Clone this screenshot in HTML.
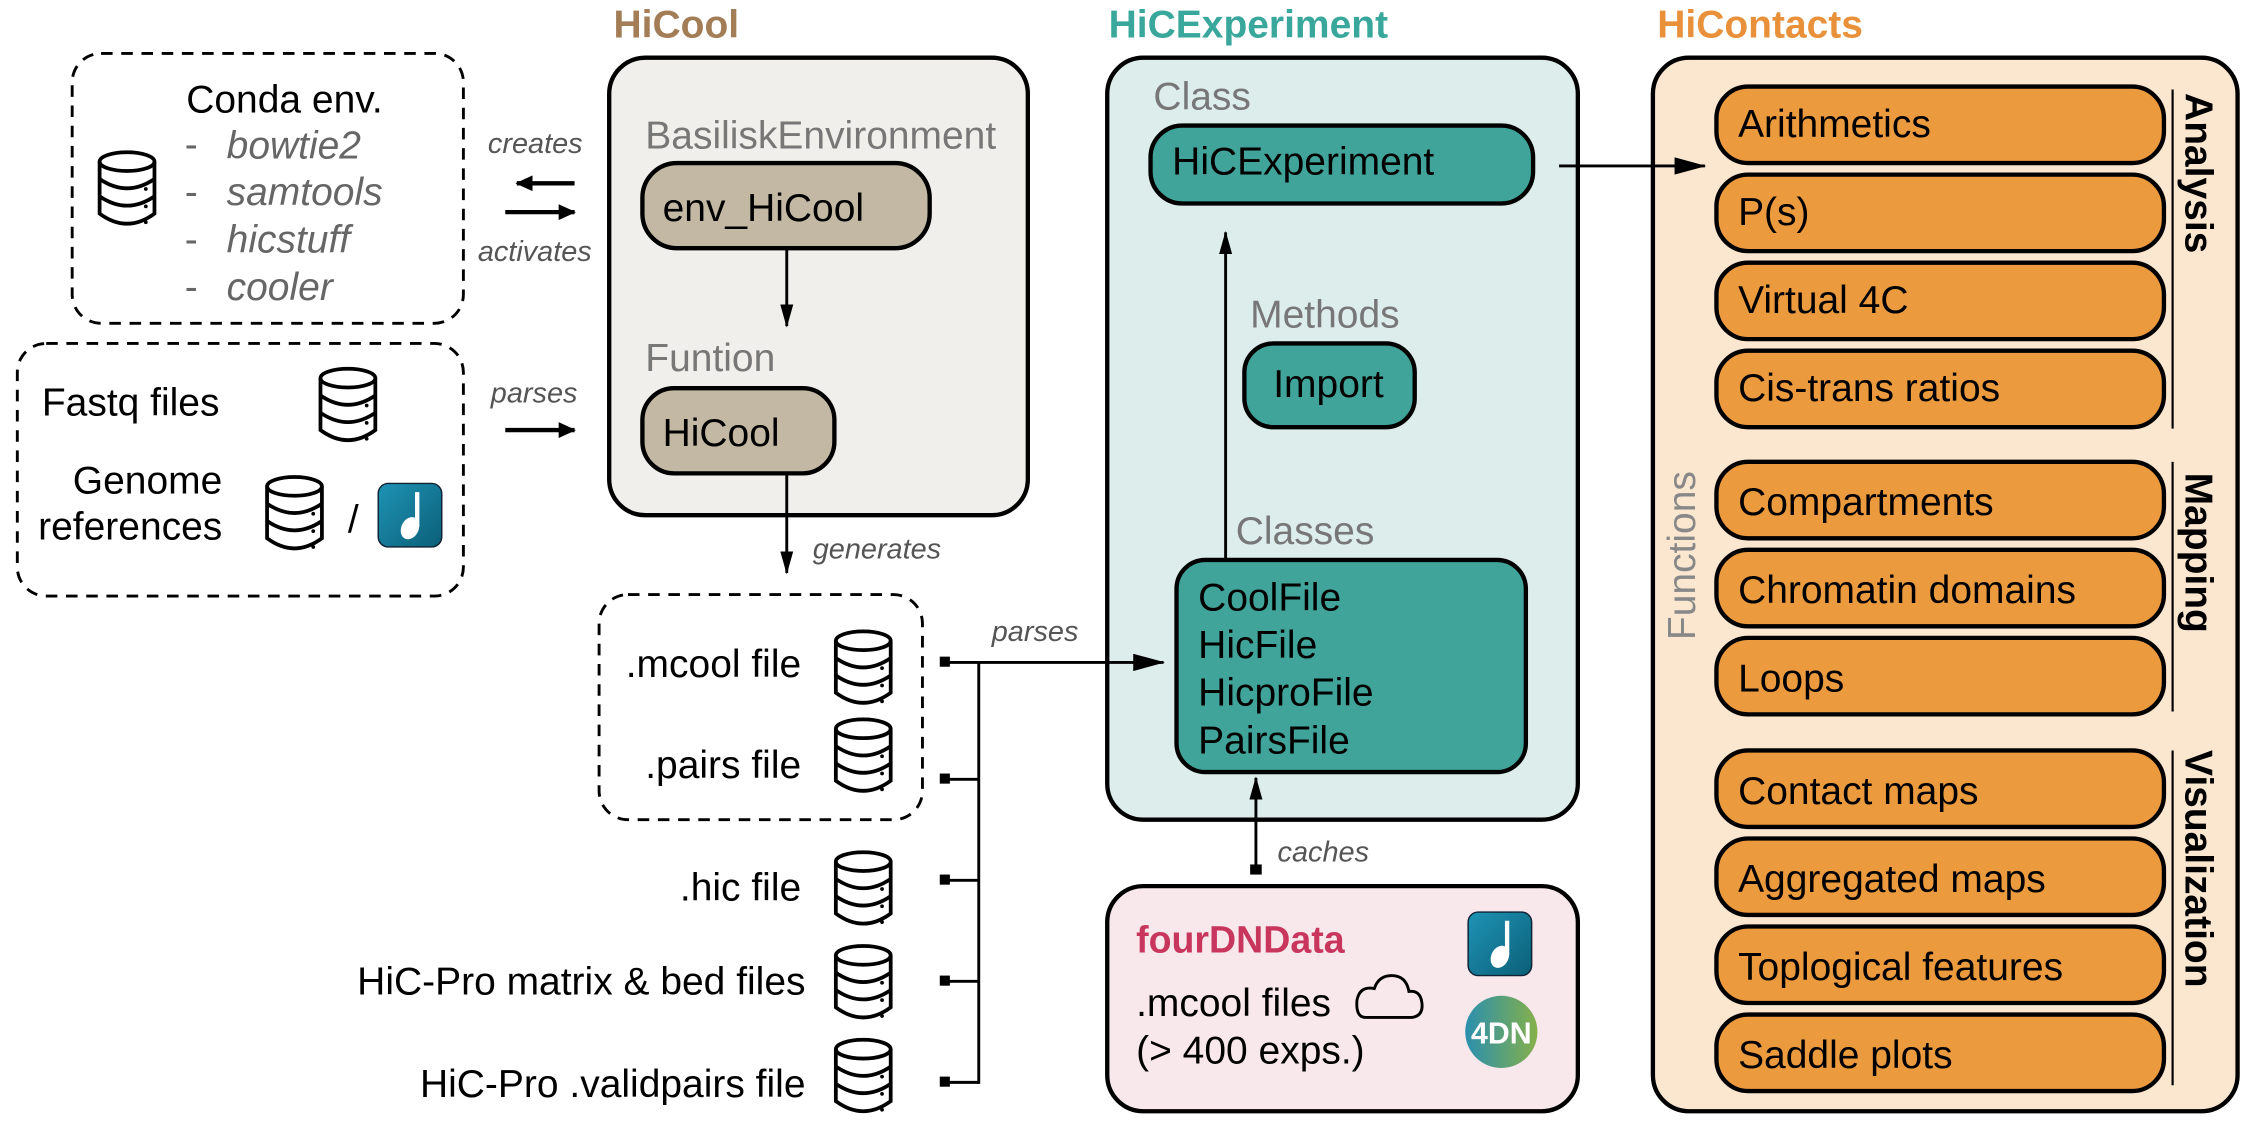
<!DOCTYPE html>
<html><head><meta charset="utf-8"><style>html,body{margin:0;padding:0;background:#fff}svg{display:block}text{font-family:"Liberation Sans",Arial,sans-serif}</style></head>
<body>
<svg width="2252" height="1130" viewBox="0 0 1560 783" preserveAspectRatio="none" xmlns="http://www.w3.org/2000/svg">
<defs>
<marker id="ah" markerWidth="16" markerHeight="9" refX="15" refY="4.5" orient="auto" markerUnits="userSpaceOnUse" viewBox="0 0 16 9"><path d="M0,0 L16,4.5 L0,9 Z" fill="#000"/></marker>
<marker id="ahs" markerWidth="12" markerHeight="11" refX="11" refY="5.5" orient="auto" markerUnits="userSpaceOnUse" viewBox="0 0 12 11"><path d="M0,0 L12,5.5 L0,11 Z" fill="#000"/></marker>
<marker id="ah2" markerWidth="22" markerHeight="12" refX="21" refY="6" orient="auto" markerUnits="userSpaceOnUse" viewBox="0 0 22 12"><path d="M0,0 L22,6 L0,12 Z" fill="#000"/></marker>
<g id="db" fill="none" stroke="#000" stroke-width="2.6">
<ellipse cx="21" cy="8" rx="19" ry="6.5" fill="#fff"/>
<path d="M2,8 V44 Q21,58 40,44 V8"/>
<path d="M2,20 Q21,33 40,20"/>
<path d="M2,32 Q21,45 40,32"/>
<circle cx="34" cy="27" r="1.3" fill="#000" stroke="none"/>
<circle cx="34" cy="39" r="1.3" fill="#000" stroke="none"/>
<circle cx="34" cy="50" r="1.3" fill="#000" stroke="none"/>
</g>
<linearGradient id="bg" x1="0" y1="0" x2="1" y2="1"><stop offset="0" stop-color="#1e93b5"/><stop offset="1" stop-color="#0b5f78"/></linearGradient>
<linearGradient id="g4" x1="0" y1="0" x2="1" y2="0"><stop offset="0" stop-color="#2a8fae"/><stop offset="1" stop-color="#86b04a"/></linearGradient>
<g id="bioc"><rect x="0" y="0" width="44" height="44" rx="7" fill="url(#bg)" stroke="#123" stroke-width="1"/><path d="M27,6 V30" stroke="#fff" stroke-width="3"/><ellipse cx="22" cy="31" rx="6" ry="8" transform="rotate(25 22 31)" fill="#fff"/></g>
</defs>

<!-- Left dashed boxes -->
<rect x="50" y="37" width="271" height="187" rx="20" fill="none" stroke="#000" stroke-width="2" stroke-dasharray="8,6"/>
<use href="#db" x="67" y="104"/>
<text x="129" y="78" font-size="27">Conda env.</text>
<g font-size="27" fill="#666"><text x="128" y="109">-</text><text x="128" y="142">-</text><text x="128" y="175">-</text><text x="128" y="208">-</text></g>
<g font-size="27" fill="#666" font-style="italic"><text x="157" y="110">bowtie2</text><text x="157" y="142">samtools</text><text x="157" y="175">hicstuff</text><text x="157" y="208">cooler</text></g>
<text x="338" y="106" font-size="20" font-style="italic" fill="#555">creates</text>
<text x="331" y="181" font-size="20" font-style="italic" fill="#555">activates</text>
<line x1="398" y1="127" x2="358" y2="127" stroke="#000" stroke-width="3" marker-end="url(#ahs)"/>
<line x1="350" y1="147" x2="398" y2="147" stroke="#000" stroke-width="3" marker-end="url(#ahs)"/>

<rect x="12" y="238" width="309" height="175" rx="20" fill="none" stroke="#000" stroke-width="2" stroke-dasharray="8,6"/>
<text x="29" y="288" font-size="27">Fastq files</text>
<use href="#db" x="220" y="254"/>
<text x="154" y="342" font-size="27" text-anchor="end">Genome</text>
<text x="154" y="374" font-size="27" text-anchor="end">references</text>
<use href="#db" x="183" y="329"/>
<text x="241" y="369" font-size="27">/</text>
<use href="#bioc" x="262" y="335"/>
<text x="340" y="279" font-size="20" font-style="italic" fill="#555">parses</text>
<line x1="350" y1="298" x2="398" y2="298" stroke="#000" stroke-width="3" marker-end="url(#ahs)"/>

<!-- HiCool -->
<text x="425" y="26" font-size="27" font-weight="bold" fill="#a27d56">HiCool</text>
<rect x="422" y="40" width="290" height="317" rx="25" fill="#f0efeb" stroke="#000" stroke-width="3"/>
<text x="447" y="103" font-size="27" fill="#777">BasiliskEnvironment</text>
<rect x="445" y="113" width="199" height="59" rx="24" fill="#c2b8a3" stroke="#000" stroke-width="3"/>
<text x="459" y="153" font-size="27">env_HiCool</text>
<line x1="545" y1="172" x2="545" y2="226" stroke="#000" stroke-width="2" marker-end="url(#ah)"/>
<text x="447" y="257" font-size="27" fill="#777">Funtion</text>
<rect x="445" y="269" width="133" height="59" rx="22" fill="#c2b8a3" stroke="#000" stroke-width="3"/>
<text x="459" y="309" font-size="27">HiCool</text>
<line x1="545" y1="328" x2="545" y2="397" stroke="#000" stroke-width="2" marker-end="url(#ah)"/>
<text x="563" y="387" font-size="20" font-style="italic" fill="#555">generates</text>

<!-- files -->
<rect x="415" y="412" width="224" height="156" rx="20" fill="none" stroke="#000" stroke-width="2" stroke-dasharray="8,6"/>
<g font-size="27" text-anchor="end">
<text x="555" y="469">.mcool file</text>
<text x="555" y="539">.pairs file</text>
<text x="555" y="624">.hic file</text>
<text x="558" y="689">HiC-Pro matrix &amp; bed files</text>
<text x="558" y="760">HiC-Pro .validpairs file</text>
</g>
<use href="#db" x="577" y="436"/>
<use href="#db" x="577" y="497"/>
<use href="#db" x="577" y="589"/>
<use href="#db" x="577" y="654"/>
<use href="#db" x="577" y="719"/>
<g stroke="#000" stroke-width="2">
<line x1="678" y1="459" x2="678" y2="751"/>
<line x1="655" y1="459" x2="678" y2="459"/><line x1="655" y1="540" x2="678" y2="540"/><line x1="655" y1="610" x2="678" y2="610"/><line x1="655" y1="680" x2="678" y2="680"/><line x1="655" y1="750" x2="678" y2="750"/>
</g>
<g fill="#000"><rect x="651" y="455" width="7" height="7"/><rect x="651" y="536" width="7" height="7"/><rect x="651" y="606" width="7" height="7"/><rect x="651" y="676" width="7" height="7"/><rect x="651" y="746" width="7" height="7"/></g>
<text x="687" y="444" font-size="20" font-style="italic" fill="#555">parses</text>

<!-- HiCExperiment -->
<text x="768" y="26" font-size="27" font-weight="bold" fill="#3aa79c">HiCExperiment</text>
<rect x="767" y="40" width="326" height="528" rx="25" fill="#dcedeb" stroke="#000" stroke-width="3"/>
<line x1="678" y1="459" x2="806" y2="459" stroke="#000" stroke-width="2" marker-end="url(#ah2)"/>
<text x="799" y="76" font-size="27" fill="#777">Class</text>
<rect x="797" y="87" width="265" height="54" rx="22" fill="#40a49b" stroke="#000" stroke-width="3"/>
<text x="812" y="121" font-size="27">HiCExperiment</text>
<line x1="849" y1="388" x2="849" y2="161" stroke="#000" stroke-width="2" marker-end="url(#ah)"/>
<text x="866" y="227" font-size="27" fill="#777">Methods</text>
<rect x="862" y="238" width="118" height="58" rx="20" fill="#40a49b" stroke="#000" stroke-width="3"/>
<text x="882" y="275" font-size="27">Import</text>
<text x="856" y="377" font-size="27" fill="#777">Classes</text>
<rect x="815" y="388" width="242" height="147" rx="20" fill="#40a49b" stroke="#000" stroke-width="3"/>
<g font-size="27"><text x="830" y="423">CoolFile</text><text x="830" y="456">HicFile</text><text x="830" y="489">HicproFile</text><text x="830" y="522">PairsFile</text></g>
<line x1="870" y1="603" x2="870" y2="539" stroke="#000" stroke-width="2" marker-end="url(#ah)"/>
<rect x="866" y="599" width="8" height="7" fill="#000"/>
<text x="885" y="597" font-size="20" font-style="italic" fill="#555">caches</text>

<!-- fourDNData -->
<rect x="767" y="614" width="326" height="156" rx="25" fill="#f8e8eb" stroke="#000" stroke-width="3"/>
<text x="787" y="660" font-size="26" font-weight="bold" fill="#c8365e">fourDNData</text>
<text x="787" y="704" font-size="27">.mcool files</text>
<text x="787" y="737" font-size="27">(&gt; 400 exps.)</text>
<path d="M946,705 H978 Q986,704 985,695 Q984,686 976,687 Q974,676 964,676 Q955,676 952,685 Q942,683 940,693 Q939,705 946,705 Z" fill="none" stroke="#000" stroke-width="2"/>
<use href="#bioc" x="1017" y="632"/>
<circle cx="1040" cy="715" r="25" fill="url(#g4)"/>
<text x="1040" y="723" font-size="21" font-weight="bold" fill="#fff" text-anchor="middle">4DN</text>

<!-- HiContacts -->
<text x="1148" y="26" font-size="27" font-weight="bold" fill="#e8913a">HiContacts</text>
<rect x="1145" y="40" width="405" height="730" rx="25" fill="#fbe6cf" stroke="#000" stroke-width="3"/>
<line x1="1080" y1="115" x2="1181" y2="115" stroke="#000" stroke-width="2" marker-end="url(#ah2)"/>
<text transform="translate(1174,385) rotate(-90)" font-size="27" fill="#888" text-anchor="middle">Functions</text>
<g fill="#eb9a3e" stroke="#000" stroke-width="3">
<rect x="1189" y="60" width="310" height="53" rx="22"/>
<rect x="1189" y="121" width="310" height="53" rx="22"/>
<rect x="1189" y="182" width="310" height="53" rx="22"/>
<rect x="1189" y="243" width="310" height="53" rx="22"/>
<rect x="1189" y="320" width="310" height="53" rx="22"/>
<rect x="1189" y="381" width="310" height="53" rx="22"/>
<rect x="1189" y="442" width="310" height="53" rx="22"/>
<rect x="1189" y="520" width="310" height="53" rx="22"/>
<rect x="1189" y="581" width="310" height="53" rx="22"/>
<rect x="1189" y="642" width="310" height="53" rx="22"/>
<rect x="1189" y="703" width="310" height="53" rx="22"/>
</g>
<g font-size="27">
<text x="1204" y="95">Arithmetics</text>
<text x="1204" y="156">P(s)</text>
<text x="1204" y="217">Virtual 4C</text>
<text x="1204" y="278">Cis-trans ratios</text>
<text x="1204" y="357">Compartments</text>
<text x="1204" y="418">Chromatin domains</text>
<text x="1204" y="479">Loops</text>
<text x="1204" y="557">Contact maps</text>
<text x="1204" y="618">Aggregated maps</text>
<text x="1204" y="679">Toplogical features</text>
<text x="1204" y="740">Saddle plots</text>
</g>
<g stroke="#000" stroke-width="1.5">
<line x1="1505" y1="62" x2="1505" y2="297"/>
<line x1="1505" y1="320" x2="1505" y2="493"/>
<line x1="1505" y1="520" x2="1505" y2="752"/>
</g>
<g font-size="27" font-weight="bold" text-anchor="middle">
<text transform="translate(1514,120) rotate(90)">Analysis</text>
<text transform="translate(1514,383) rotate(90)">Mapping</text>
<text transform="translate(1514,602) rotate(90)">Visualization</text>
</g>
</svg>
</body></html>
